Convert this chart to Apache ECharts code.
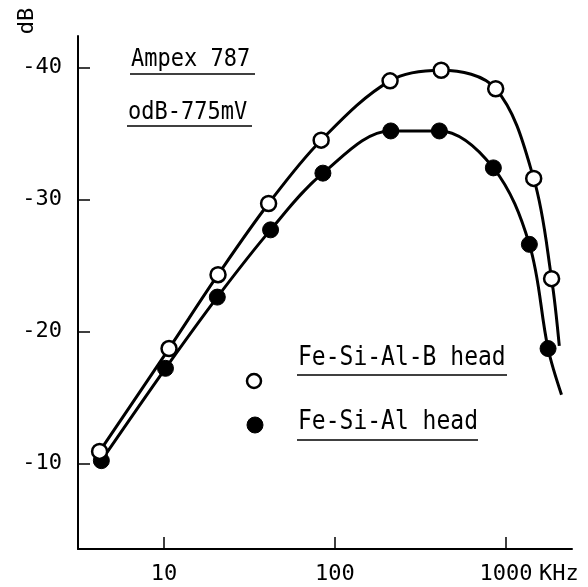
<!DOCTYPE html>
<html>
<head>
<meta charset="utf-8">
<script src="https://cdn.jsdelivr.net/npm/echarts@6/dist/echarts.min.js"></script>
<style>
html,body{margin:0;padding:0;background:#fff;}
#chart{width:588px;height:587px;}
</style>
</head>
<body>
<div id="chart"></div>
<script>
// Frequency (kHz) and level (dB)
var freqFeSiAlB = [4.2, 10.7, 20.7, 40.9, 83, 210, 418, 871, 1453, 1849];
var dbFeSiAlB   = [-10.9, -18.7, -24.3, -29.7, -34.5, -39.0, -39.8, -38.4, -31.6, -24.0];
var freqFeSiAl  = [4.3, 10.2, 20.5, 42, 85, 212, 408, 844, 1371, 1763];
var dbFeSiAl    = [-10.2, -17.2, -22.6, -27.7, -32.0, -35.2, -35.2, -32.4, -26.6, -18.7];
// where each drawn curve ends (no marker)
var curveEndFeSiAlB = [2051, -18.9];
var curveEndFeSiAl  = [2113, -15.2];
// axis ticks
var xTicks = [10, 100, 1000];
var yTicks = [-10, -20, -30, -40];
var seriesNames = ['Fe-Si-Al-B head', 'Fe-Si-Al head'];
var notes = ['Ampex 787', 'odB-775mV'];

function build(freq, db, end) {
  var d = freq.map(function (f, i) { return [f, db[i]]; });
  d.push({ value: end, symbol: 'none' });
  return d;
}

var FONT = '"DejaVu Sans Mono", "Liberation Mono", monospace';
var chart = echarts.init(document.getElementById('chart'), null, { renderer: 'canvas' });

chart.setOption({
  animation: false,
  backgroundColor: '#ffffff',
  grid: { left: 78, right: 16, top: 36, bottom: 38, containLabel: false, outerBoundsMode: 'none' },
  xAxis: {
    type: 'log',
    logBase: 10,
    min: 3.14,
    max: 2434,
    axisLine: { onZero: false, lineStyle: { color: '#000', width: 2 } },
    axisTick: { inside: true, length: 12, lineStyle: { color: '#000', width: 1.5 }, customValues: xTicks },
    axisLabel: { customValues: xTicks, color: '#000', fontFamily: FONT, fontSize: 22, margin: 14,
      formatter: function (v) { return String(Math.round(v)); } },
    minorTick: { show: false },
    splitLine: { show: false },
    name: 'KHz',
    nameLocation: 'end',
    nameGap: -33,
    nameTextStyle: { color: '#000', fontFamily: FONT, fontSize: 22, align: 'left', verticalAlign: 'top', padding: [14, 0, 0, 0] }
  },
  yAxis: {
    type: 'value',
    inverse: true,
    min: -42.4,
    max: -3.5,
    axisLine: { show: true, onZero: false, lineStyle: { color: '#000', width: 2 } },
    axisTick: { show: true, inside: true, length: 12, lineStyle: { color: '#000', width: 1.5 }, customValues: yTicks },
    axisLabel: { customValues: yTicks, color: '#000', fontFamily: FONT, fontSize: 22, margin: 16 },
    splitLine: { show: false }
  },
  series: [
    {
      name: seriesNames[0],
      type: 'line',
      smooth: 0.35,
      data: build(freqFeSiAlB, dbFeSiAlB, curveEndFeSiAlB),
      symbol: 'circle',
      symbolSize: 15,
      itemStyle: { color: '#ffffff', borderColor: '#000', borderWidth: 2.5 },
      lineStyle: { color: '#000', width: 3 },
      z: 3
    },
    {
      name: seriesNames[1],
      type: 'line',
      smooth: 0.35,
      data: build(freqFeSiAl, dbFeSiAl, curveEndFeSiAl),
      symbol: 'circle',
      symbolSize: 16,
      itemStyle: { color: '#000', borderColor: '#000', borderWidth: 1 },
      lineStyle: { color: '#000', width: 3 },
      z: 2
    }
  ],
  graphic: [
    { type: 'text', x: 27, y: 21, rotation: Math.PI / 2,
      style: { text: 'dB', font: '22px ' + FONT, fill: '#000', align: 'center', verticalAlign: 'middle' } },
    { type: 'text', x: 131, y: 59, scaleY: 1.15,
      style: { text: notes[0], font: '22px ' + FONT, fill: '#000', align: 'left', verticalAlign: 'middle' } },
    { type: 'line', shape: { x1: 130, y1: 74, x2: 255, y2: 74 }, style: { stroke: '#000', lineWidth: 1.5 } },
    { type: 'text', x: 128, y: 112, scaleY: 1.15,
      style: { text: notes[1], font: '22px ' + FONT, fill: '#000', align: 'left', verticalAlign: 'middle' } },
    { type: 'line', shape: { x1: 127, y1: 126, x2: 252, y2: 126 }, style: { stroke: '#000', lineWidth: 1.5 } },
    // legend
    { type: 'circle', shape: { cx: 254, cy: 381, r: 7 }, style: { fill: '#fff', stroke: '#000', lineWidth: 2.5 } },
    { type: 'text', x: 298, y: 358, scaleY: 1.15,
      style: { text: seriesNames[0], font: '23px ' + FONT, fill: '#000', align: 'left', verticalAlign: 'middle' } },
    { type: 'line', shape: { x1: 297, y1: 375, x2: 507, y2: 375 }, style: { stroke: '#000', lineWidth: 1.5 } },
    { type: 'circle', shape: { cx: 255, cy: 425, r: 8 }, style: { fill: '#000', stroke: '#000', lineWidth: 1 } },
    { type: 'text', x: 298, y: 422, scaleY: 1.15,
      style: { text: seriesNames[1], font: '23px ' + FONT, fill: '#000', align: 'left', verticalAlign: 'middle' } },
    { type: 'line', shape: { x1: 297, y1: 440, x2: 478, y2: 440 }, style: { stroke: '#000', lineWidth: 1.5 } }
  ]
});
</script>
</body>
</html>
